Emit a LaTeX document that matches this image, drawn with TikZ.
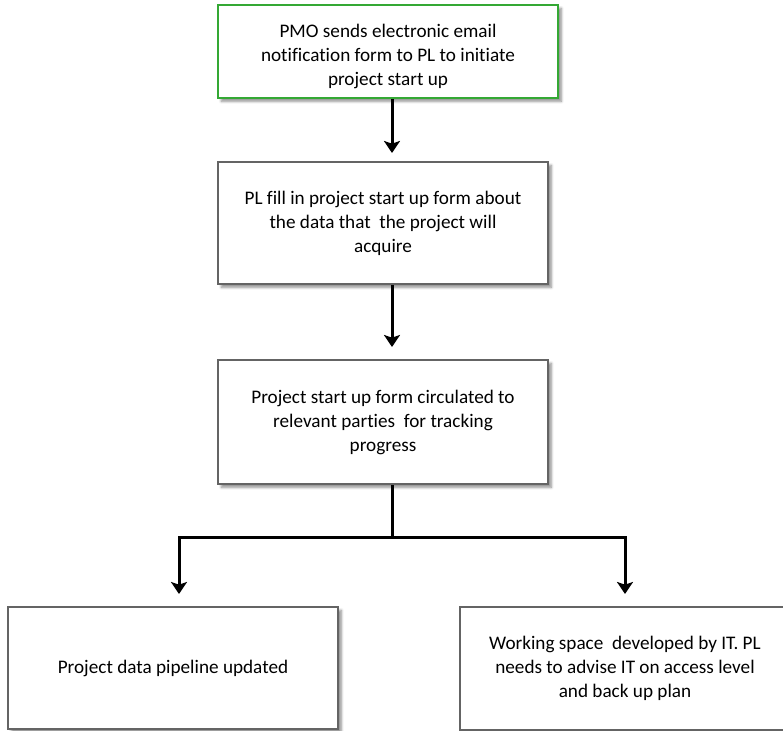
\documentclass[tikz,border=0pt]{standalone}
\usepackage{fontspec}
\setmainfont[Ligatures={NoCommon}]{Carlito}
\usetikzlibrary{arrows.meta,shadows.blur}

\definecolor{boxgreen}{RGB}{52,168,52}
\definecolor{boxgrey}{RGB}{100,100,100}

\tikzset{
  stepbox/.style={draw=boxgrey, line width=1.5pt, fill=white, align=center,
    inner sep=0pt, font=\fontsize{14.4pt}{18pt}\selectfont,
    blur shadow={shadow xshift=2.5pt, shadow yshift=-2.5pt, shadow blur steps=6, shadow opacity=45}},
  startbox/.style={stepbox, draw=boxgreen},
  flow/.style={line width=2.25pt, black},
  flowarrow/.style={flow, -{Stealth[length=9pt,width=12pt,inset=2pt]}, shorten >=6pt},
}

\begin{document}
\begin{tikzpicture}[x=0.75pt,y=0.75pt,yscale=-1,xscale=1]
\useasboundingbox (0,0) rectangle (783,731);

% Boxes
\node [startbox, minimum width=255pt, minimum height=69.75pt] (notify) at (388,51.5)
  {\rule{0pt}{18pt}PMO sends electronic email\\ notification form to PL to initiate\\ project start up};
\node [stepbox, minimum width=247.5pt, minimum height=91.5pt] (fillform) at (383,223)
  {PL fill in project start up form about\\ the data that\ \ the project will\\ acquire};
\node [stepbox, minimum width=247.5pt, minimum height=93pt] (circulate) at (383,422)
  {Project start up form circulated to\\ relevant parties\ \ for tracking\\ progress};
\node [stepbox, minimum width=247.5pt, minimum height=91.5pt] (pipeline) at (173,668)
  {Project data pipeline updated};
\node [stepbox, minimum width=247.5pt, minimum height=92.25pt] (workspace) at (625,668.5)
  {Working space\ \ developed by IT. PL\\ needs to advise IT on access level\\ and back up plan};

% Connectors
\coordinate (split) at (392,537);
\draw [flowarrow] (notify.south -| split) -- (fillform.north -| split);
\draw [flowarrow, shorten >=9pt] (fillform.south -| split) -- (circulate.north -| split);
\draw [flow] (circulate.south -| split) -- (split);
\draw [flowarrow, shorten >=9pt] (split) -| ([xshift=4.5pt]pipeline.north);
\draw [flowarrow, shorten >=9pt] (split) -| (workspace.north);

\end{tikzpicture}
\end{document}
